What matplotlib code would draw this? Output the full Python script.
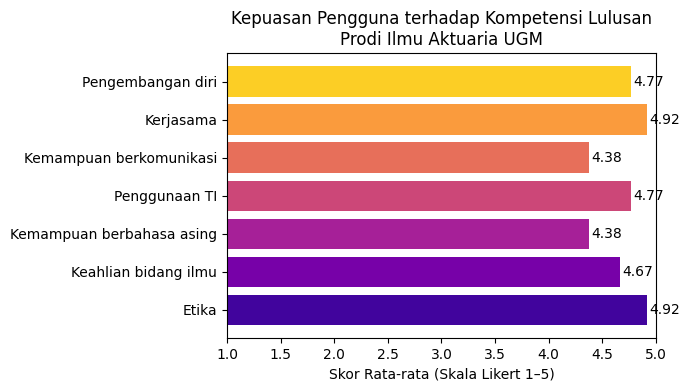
import numpy as np
import matplotlib.pyplot as plt

aspek = ['Etika', 'Keahlian bidang ilmu', 'Kemampuan berbahasa asing',
         'Penggunaan TI', 'Kemampuan berkomunikasi', 'Kerjasama',
         'Pengembangan diri']
skor = [4.92, 4.67, 4.38, 4.77, 4.38, 4.92, 4.77]

colors = plt.cm.plasma(np.linspace(0.1, 0.9, len(aspek)))

fig, ax = plt.subplots(figsize=(6.91, 3.9), dpi=100)
bars = ax.barh(aspek, skor, color=colors)
for b, v in zip(bars, skor):
    ax.text(v + 0.02, b.get_y() + b.get_height() / 2, f'{v:.2f}',
            va='center', ha='left', fontsize=10)

ax.set_xlim(1, 5)
ax.set_xlabel('Skor Rata-rata (Skala Likert 1–5)')
ax.set_title('Kepuasan Pengguna terhadap Kompetensi Lulusan\nProdi Ilmu Aktuaria UGM')
plt.subplots_adjust(left=0.3285, right=0.949, top=0.863, bottom=0.133)
plt.savefig('out.png')
